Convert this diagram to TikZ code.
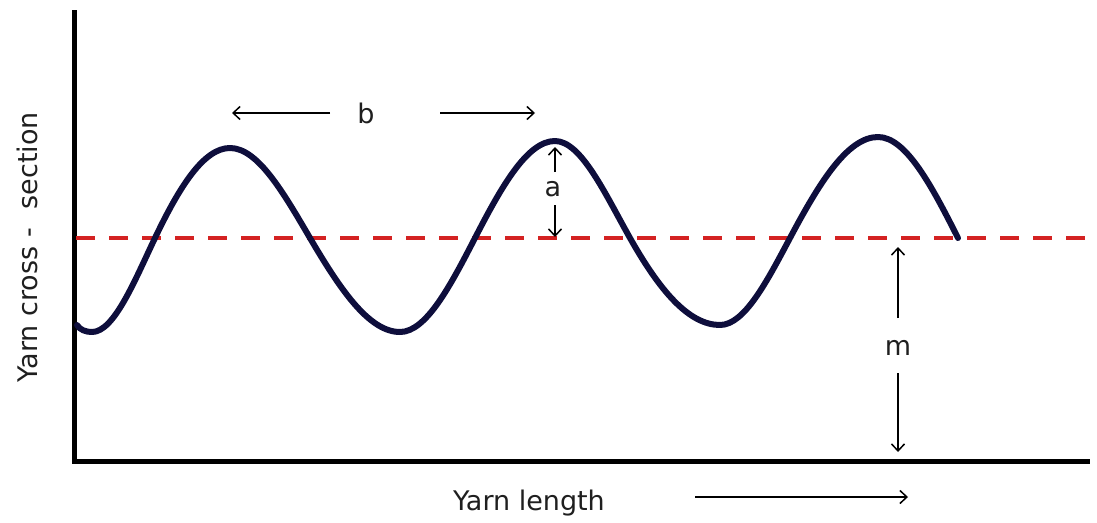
\documentclass[tikz,border=0pt]{standalone}
\usepackage{fontspec}
\setmainfont{DejaVu Sans}
\usetikzlibrary{arrows.meta}
\definecolor{wavecol}{HTML}{0E0E3C}
\definecolor{midred}{HTML}{D42222}
\tikzset{
  axisline/.style={line width=5pt, black, line join=miter},
  wave/.style={line width=6pt, wavecol, line cap=round, line join=round},
  midline/.style={line width=3.5pt, midred, dash pattern=on 19pt off 14pt},
  dimarrow/.style={line width=1.5pt, black, -{Straight Barb[length=7pt,width=13pt,line width=1.5pt]}},
  lbl/.style={font=\fontsize{27}{32}\selectfont, inner sep=0pt, text=black!88}
}
\begin{document}
\begin{tikzpicture}[x=1pt,y=-1pt]
\useasboundingbox (0,0) rectangle (1097,522);
% axes
\coordinate (ytop) at (74,10);
\coordinate (xend) at (1090,461);
\draw[axisline] (ytop) |- (xend);
% mean line
\coordinate (mstart) at (76,238);
\coordinate (mend) at (1097,238);
\draw[midline] (mstart) -- (mend);
% wave
\draw[wave] (77,325) .. controls (80,330) and (86,332) .. (92,332)
  .. controls (114,332) and (134.5,281) .. (155,238)
  .. controls (179.5,186.6) and (203.8,148) .. (230,148)
  .. controls (258,148) and (283.9,193.6) .. (310,238)
  .. controls (339.3,287.8) and (368.5,332) .. (400,332)
  .. controls (426.2,332) and (450.5,285.5) .. (475,238)
  .. controls (501.1,187.4) and (527,141) .. (555,141)
  .. controls (581.2,141) and (605.5,194.6) .. (630,238)
  .. controls (659.3,289.9) and (688.5,325) .. (720,325)
  .. controls (744.5,325) and (767.2,280.9) .. (790,238)
  .. controls (818.7,184) and (847.2,137) .. (878,137)
  .. controls (906,137) and (931.9,186.3) .. (958,238);
% b
\node[lbl] (b) at (366,113) {b};
\coordinate (bl1) at (330,113); \coordinate (bl2) at (232,113);
\coordinate (br1) at (440,113); \coordinate (br2) at (535,113);
\draw[dimarrow] (bl1) -- (bl2);
\draw[dimarrow] (br1) -- (br2);
% a
\node[lbl] (a) at (553,189) {a};
\coordinate (au1) at (555,172); \coordinate (au2) at (555,147);
\coordinate (ad1) at (555,205); \coordinate (ad2) at (555,237);
\draw[dimarrow] (au1) -- (au2);
\draw[dimarrow] (ad1) -- (ad2);
% m
\node[lbl] (m) at (898,348) {m};
\coordinate (mu1) at (898,318); \coordinate (mu2) at (898,247);
\coordinate (md1) at (898,373); \coordinate (md2) at (898,452);
\draw[dimarrow] (mu1) -- (mu2);
\draw[dimarrow] (md1) -- (md2);
% axis labels
\node[lbl] (xl) at (529,503) {Yarn length};
\coordinate (xa1) at (695,497); \coordinate (xa2) at (908,497);
\draw[dimarrow] (xa1) -- (xa2);
\node[lbl, rotate=90] (yl) at (27,247) {Yarn cross -\hspace{0.7em}section};
\end{tikzpicture}
\end{document}
